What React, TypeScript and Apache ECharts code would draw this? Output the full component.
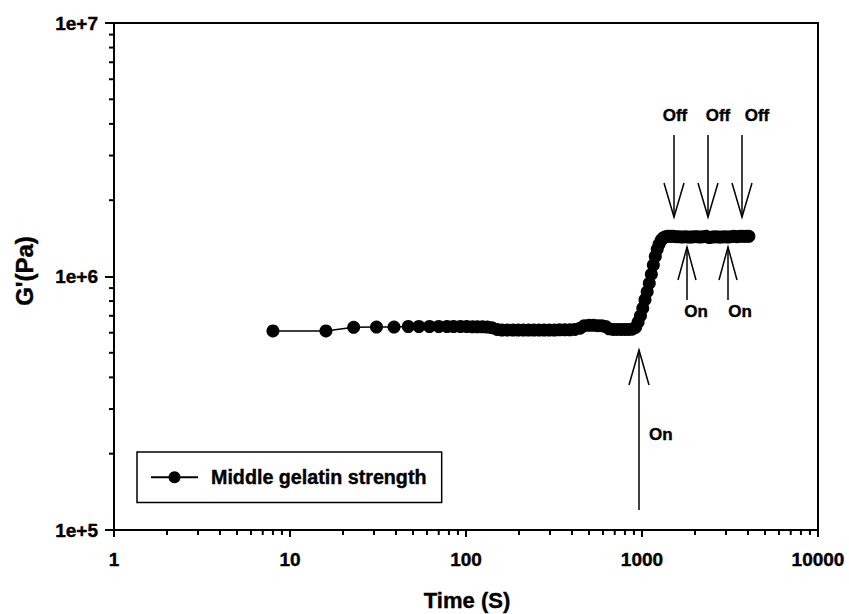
import { useEffect, useRef } from "react";
import * as echarts from "echarts";

// Time (s)
const timeS = [
  8, 16, 23, 31, 39, 47, 54, 62, 70, 78, 85, 93, 101, 109, 116, 124, 132, 140,
  150, 160, 172, 185, 198, 212, 227, 243, 260, 278, 297, 318, 340, 364, 389, 416,
  445, 470, 500, 530, 560, 590, 620, 650, 685, 720, 760, 800, 840, 880, 920, 950,
  980, 1010, 1040, 1070, 1100, 1130, 1160, 1190, 1220, 1250, 1285, 1320, 1360,
  1400, 1450, 1500, 1560, 1620, 1690, 1760, 1830, 1900, 1980, 2060, 2140, 2230,
  2320, 2410, 2510, 2610, 2720, 2830, 2950, 3070, 3200, 3330, 3470, 3610, 3760,
  3900, 4050,
];
// G' (Pa)
const gPrime = [
  610000, 610000, 630000, 632000, 632000, 635000, 635000, 635000, 635000, 635000,
  635000, 635000, 635000, 633000, 633000, 633000, 632000, 628000,
  618000, 615000, 615000, 615000, 615000, 615000, 615000, 615000, 615000, 615000,
  615000, 615000, 616000, 616000, 616000, 618000,
  625000, 640000, 642000, 642000, 640000, 640000, 635000, 622000, 618000, 618000,
  618000, 618000, 618000, 620000, 630000, 660000,
  700000, 750000, 810000, 870000, 940000, 1020000, 1110000, 1200000, 1280000,
  1340000, 1390000, 1420000, 1435000,
  1440000, 1440000, 1440000, 1435000, 1435000, 1430000, 1435000, 1430000, 1430000,
  1435000, 1435000, 1430000, 1435000, 1440000, 1425000, 1430000, 1435000, 1430000,
  1430000, 1435000, 1430000, 1435000, 1440000, 1435000, 1440000, 1440000,
  1440000, 1440000,
];

const seriesName = "Middle gelatin strength";
const xAxisTitle = "Time (S)";
const yAxisTitle = "G'(Pa)";
const xTickLabels: Record<number, string> = { 1: "1", 10: "10", 100: "100", 1000: "1000", 10000: "10000" };
const yTickLabels: Record<number, string> = { 5: "1e+5", 6: "1e+6", 7: "1e+7" };
const xMinorTicks = [2, 3, 4, 5, 6, 7, 8, 9].flatMap((m) => [1, 10, 100, 1000].map((d) => m * d));
const yMinorTicks = [2, 3, 4, 5, 6, 7, 8, 9].flatMap((m) => [1e5, 1e6].map((d) => m * d));

const FONT = "'Liberation Sans', Arial, Helvetica, sans-serif";

export default function App() {
  const ref = useRef<HTMLDivElement>(null);
  useEffect(() => {
    if (!ref.current) return;
    const chart = echarts.init(ref.current, null, { renderer: "svg" });
    const labelCommon = {
      color: "#000",
      fontSize: 19,
      fontWeight: "bold",
      fontFamily: FONT,
      textBorderColor: "#000",
      textBorderWidth: 0.4,
    };
    const option: any = {
      animation: false,
      backgroundColor: "#fff",
      grid: {
        left: 114,
        right: 31,
        top: 23,
        bottom: 84,
        show: true,
        borderColor: "#000",
        borderWidth: 2,
      },
      xAxis: {
        type: "log",
        logBase: 10,
        min: 1,
        max: 10000,
        axisLine: { lineStyle: { color: "#000", width: 2 } },
        axisTick: { show: true, inside: false, length: 7, lineStyle: { color: "#000", width: 2 } },
        splitLine: { show: false },
        axisLabel: {
          ...labelCommon,
          margin: 20,
          formatter: (v: number) => xTickLabels[Math.round(v)] ?? "",
        },
      },
      yAxis: {
        type: "log",
        logBase: 10,
        min: 1e5,
        max: 1e7,
        axisLine: { lineStyle: { color: "#000", width: 2 } },
        axisTick: { show: true, inside: false, length: 9, lineStyle: { color: "#000", width: 2 } },
        splitLine: { show: false },
        axisLabel: {
          ...labelCommon,
          margin: 16,
          formatter: (v: number) => yTickLabels[Math.round(Math.log10(v))] ?? "",
        },
      },
      legend: {
        left: 137,
        top: 452,
        orient: "horizontal",
        borderColor: "#000",
        borderWidth: 1.5,
        borderRadius: 0,
        padding: [15, 15, 15, 13],
        itemWidth: 47,
        itemHeight: 15,
        data: [seriesName],
        textStyle: {
          color: "#000",
          fontSize: 19.7,
          fontWeight: "bold",
          fontFamily: FONT,
          textBorderColor: "#000",
          textBorderWidth: 0.4,
          padding: [0, 0, 0, 8],
        },
      },
      series: [
        {
          name: seriesName,
          type: "line",
          data: timeS.map((t, i) => [t, gPrime[i]]),
          symbol: "circle",
          symbolSize: 13,
          showSymbol: true,
          itemStyle: { color: "#000" },
          lineStyle: { color: "#000", width: 1.5 },
        },
      ],
    };
    chart.setOption(option);

    const g: any[] = [];
    const bottomY = chart.convertToPixel({ gridIndex: 0 }, [1, 1e5]) as number[];
    xMinorTicks.forEach((v) => {
      const p = chart.convertToPixel({ gridIndex: 0 }, [v, 1e5]) as number[];
      g.push({ type: "line", shape: { x1: p[0], y1: bottomY[1], x2: p[0], y2: bottomY[1] + 5 }, style: { stroke: "#000", lineWidth: 2 } });
    });
    yMinorTicks.forEach((v) => {
      const p = chart.convertToPixel({ gridIndex: 0 }, [1, v]) as number[];
      g.push({ type: "line", shape: { x1: p[0] - 5, y1: p[1], x2: p[0], y2: p[1] }, style: { stroke: "#000", lineWidth: 2 } });
    });

    const arrowStyle = { stroke: "#000", lineWidth: 1.5, fill: "none" };
    const textStyle = (text: string, x: number, y: number, align = "center") => ({
      type: "text",
      x,
      y,
      style: {
        text,
        fill: "#000",
        font: `bold 17px ${FONT}`,
        align,
        verticalAlign: "middle",
        stroke: "#000",
        lineWidth: 0.4,
      },
    });
    // Off arrows (pointing down)
    [674, 708, 742].forEach((x) => {
      g.push({ type: "line", shape: { x1: x, y1: 135, x2: x, y2: 217 }, style: arrowStyle });
      g.push({ type: "polyline", shape: { points: [[x - 10, 183], [x, 217], [x + 10, 183]] }, style: arrowStyle });
    });
    [675, 718, 757].forEach((x) => g.push(textStyle("Off", x, 115)));
    // small On arrows (pointing up)
    [687, 728].forEach((x) => {
      g.push({ type: "line", shape: { x1: x, y1: 247, x2: x, y2: 300 }, style: arrowStyle });
      g.push({ type: "polyline", shape: { points: [[x - 9, 280], [x, 247], [x + 9, 280]] }, style: arrowStyle });
    });
    [696, 740].forEach((x) => g.push(textStyle("On", x, 311)));
    // big On arrow
    g.push({ type: "line", shape: { x1: 639, y1: 350, x2: 639, y2: 510 }, style: arrowStyle });
    g.push({ type: "polyline", shape: { points: [[629, 385], [639, 350], [649, 385]] }, style: arrowStyle });
    g.push(textStyle("On", 649, 434, "left"));

    // axis titles
    g.push({
      type: "text",
      x: 467,
      y: 600,
      style: {
        text: xAxisTitle,
        fill: "#000",
        font: `bold 22px ${FONT}`,
        align: "center",
        verticalAlign: "middle",
        stroke: "#000",
        lineWidth: 0.4,
      },
    });
    g.push({
      type: "text",
      x: 24,
      y: 271,
      rotation: Math.PI / 2,
      style: {
        text: yAxisTitle,
        fill: "#000",
        font: `bold 24px ${FONT}`,
        align: "center",
        verticalAlign: "middle",
        stroke: "#000",
        lineWidth: 0.4,
      },
    });

    chart.setOption({ graphic: g });
    return () => chart.dispose();
  }, []);
  return (
    <div
      ref={ref}
      style={{ position: "fixed", left: 0, top: 0, width: 849, height: 614, background: "#fff" }}
    />
  );
}
